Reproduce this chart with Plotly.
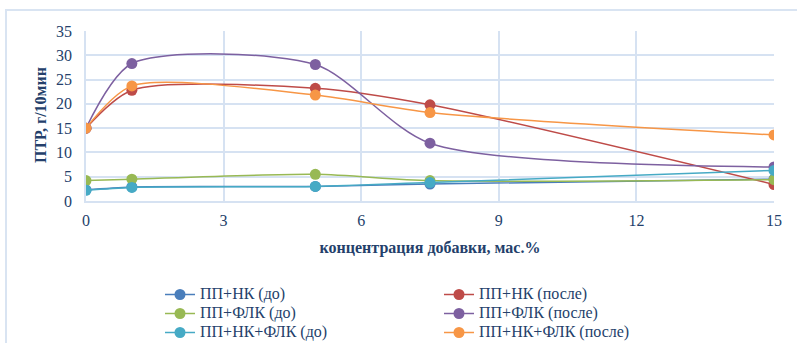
import plotly.graph_objects as go

x_vals = [0, 1, 5, 7.5, 15]
series_names = ["ПП+НК (до)", "ПП+НК (после)", "ПП+ФЛК (до)", "ПП+ФЛК (после)",
                "ПП+НК+ФЛК (до)", "ПП+НК+ФЛК (после)"]
pp_nk_do = [2.3, 2.9, 3.0, 3.5, 4.5]
pp_nk_posle = [15.0, 22.8, 23.2, 19.8, 3.4]
pp_flk_do = [4.2, 4.5, 5.5, 4.2, 4.4]
pp_flk_posle = [15.0, 28.3, 28.1, 11.9, 7.0]
pp_nkflk_do = [2.2, 2.8, 3.0, 3.8, 6.3]
pp_nkflk_posle = [15.0, 23.7, 21.8, 18.2, 13.6]
series_values = [pp_nk_do, pp_nk_posle, pp_flk_do, pp_flk_posle, pp_nkflk_do, pp_nkflk_posle]
colors = ["#4A7EBB", "#BE4B48", "#98B954", "#7D60A0", "#46AAC5", "#F79646"]
x_ticks = [0, 3, 6, 9, 12, 15]
y_ticks = [0, 5, 10, 15, 20, 25, 30, 35]
y_title = "ПТР, г/10мин"
x_title = "концентрация добавки, мас.%"

W, H = 797, 343
L, R, T, B = 86, 23, 31, 142
TXT = "#243F6B"
GRID = "#D6E2F2"
FONT = "Liberation Serif"

fig = go.Figure()
for i, (name, vals, col) in enumerate(zip(series_names, series_values, colors)):
    fig.add_trace(go.Scatter(
        x=x_vals, y=vals, mode="lines+markers",
        name='<span style="font-size:16px">' + name + '</span>',
        line=dict(color=col, width=1.5, shape="spline", smoothing=0.75),
        marker=dict(color=col, size=11),
        legend="legend" if i % 2 == 0 else "legend2",
    ))

pw = W - L - R
ph = H - T - B
px2x = lambda p: (p - L) / pw
py2y = lambda p: (H - B - p) / ph

fig.add_shape(type="rect", xref="paper", yref="paper",
              x0=px2x(6), x1=px2x(W + 10), y0=py2y(H + 10), y1=py2y(10),
              line=dict(color="#D9E4F2", width=2), layer="below")

fig.add_annotation(text="<b>" + y_title + "</b>", xref="paper", yref="paper",
                   x=px2x(40), y=py2y(115), xanchor="center", yanchor="middle",
                   textangle=-90, showarrow=False,
                   font=dict(size=16, family=FONT, color=TXT))

leg_common = dict(orientation="v", xanchor="left", yanchor="top",
                  font=dict(size=11, family=FONT, color=TXT),
                  bgcolor="rgba(0,0,0,0)", tracegroupgap=0)

fig.update_layout(
    width=W, height=H,
    margin=dict(l=L, r=R, t=T, b=B, autoexpand=False),
    paper_bgcolor="white", plot_bgcolor="white",
    font=dict(family=FONT, color=TXT, size=15),
    xaxis=dict(range=[0, 15], tickvals=x_ticks, showgrid=True, gridcolor=GRID, gridwidth=1.5,
               showline=True, linecolor=GRID, linewidth=1.5, zeroline=False, automargin=False,
               tickfont=dict(size=16, family=FONT, color=TXT), ticklabelstandoff=4,
               title=dict(text="<b>" + x_title + "</b>", font=dict(size=16, family=FONT, color=TXT),
                          standoff=14)),
    yaxis=dict(range=[0, 35], tickvals=y_ticks, showgrid=True, gridcolor=GRID, gridwidth=1.5,
               showline=True, linecolor=GRID, linewidth=1.5, zeroline=False, automargin=False,
               tickfont=dict(size=16, family=FONT, color=TXT), ticklabelstandoff=9),
    legend=dict(x=px2x(160), y=py2y(280), **leg_common),
    legend2=dict(x=px2x(439), y=py2y(280), **leg_common),
    showlegend=True,
)

fig.write_html("out.html", config={"displayModeBar": False},
               post_script="document.body.style.margin='0';")
